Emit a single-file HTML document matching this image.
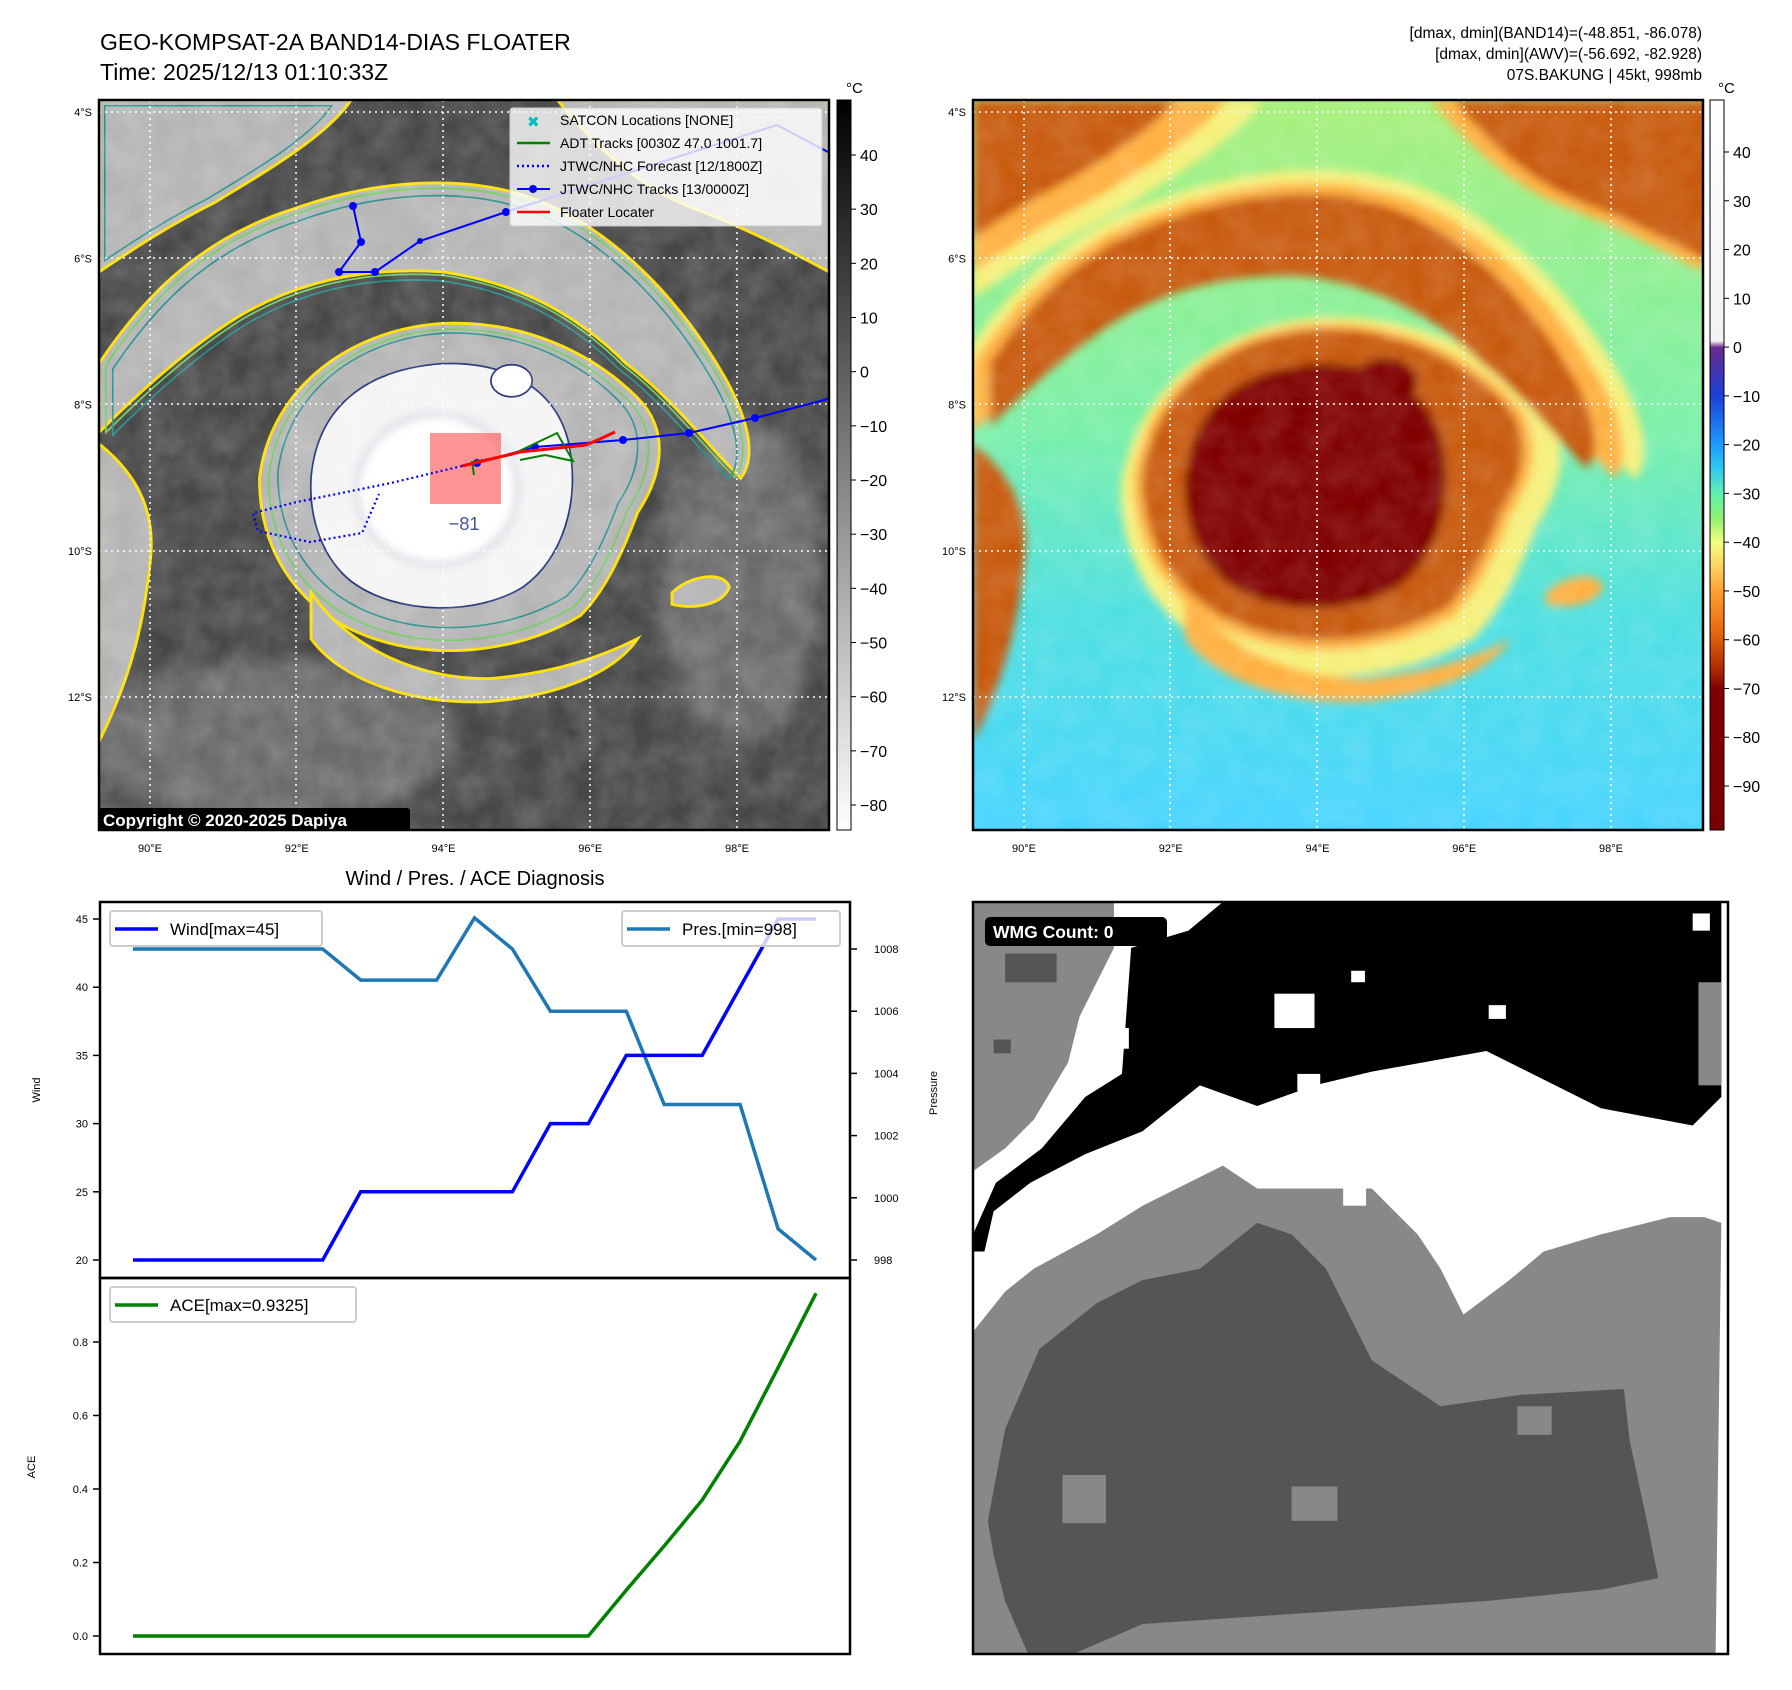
<!DOCTYPE html>
<html><head><meta charset="utf-8"><style>
html,body{margin:0;padding:0;background:#fff;}
svg{display:block;font-family:"Liberation Sans","DejaVu Sans",sans-serif;}
</style></head><body>
<svg id="root" width="1792" height="1690" viewBox="0 0 1792 1690" xmlns="http://www.w3.org/2000/svg">
<defs>
  <clipPath id="clip1"><rect x="99" y="100" width="730" height="730"/></clipPath>
  <clipPath id="clip2"><rect x="973" y="100" width="730" height="730"/></clipPath>
  <clipPath id="clip3"><rect x="973" y="902" width="755" height="752"/></clipPath>
  <filter id="blur4"><feGaussianBlur stdDeviation="4"/></filter>
  <filter id="blur8"><feGaussianBlur stdDeviation="8"/></filter>
  <filter id="noise" x="0" y="0" width="100%" height="100%">
    <feTurbulence type="fractalNoise" baseFrequency="0.035" numOctaves="3" seed="4"/>
    <feColorMatrix type="matrix" values="0 0 0 0 1  0 0 0 0 1  0 0 0 0 1  0 0 0 0.55 -0.12"/>
  </filter>
  <linearGradient id="cb1" x1="0" y1="0" x2="0" y2="1">
    <stop offset="0" stop-color="#000"/><stop offset="1" stop-color="#fff"/>
  </linearGradient>
  <linearGradient id="cb2" x1="0" y1="0" x2="0" y2="1">
    <stop offset="0" stop-color="#ffffff"/><stop offset="0.33" stop-color="#f2f2f2"/>
    <stop offset="0.339" stop-color="#6a2a90"/><stop offset="0.405" stop-color="#1a40d8"/>
    <stop offset="0.472" stop-color="#1e9cff"/><stop offset="0.505" stop-color="#2ec8f0"/>
    <stop offset="0.539" stop-color="#60f0b0"/><stop offset="0.572" stop-color="#90f070"/>
    <stop offset="0.606" stop-color="#f0ff80"/><stop offset="0.64" stop-color="#ffd060"/>
    <stop offset="0.673" stop-color="#ffa030"/><stop offset="0.726" stop-color="#e86a10"/>
    <stop offset="0.773" stop-color="#b83200"/><stop offset="0.807" stop-color="#800000"/>
    <stop offset="1" stop-color="#7a0000"/>
  </linearGradient>
  <linearGradient id="sea2" x1="0" y1="0" x2="0" y2="1">
    <stop offset="0" stop-color="#a8f07a"/><stop offset="0.45" stop-color="#7af0a8"/>
    <stop offset="0.7" stop-color="#4ee0e0"/><stop offset="1" stop-color="#48d4ff"/>
  </linearGradient>
  <path id="band-upper" d="M0,230 C40,170 90,120 170,95 C240,70 330,60 400,95 C460,125 510,180 545,240 C565,275 575,310 560,330 C530,300 500,260 460,230 C420,190 370,160 300,150 C230,145 170,160 120,190 C80,215 40,250 0,290 Z"/>
  <path id="band-top-right" d="M400,0 L637,0 L637,150 C600,130 560,110 520,95 C480,80 440,50 400,0 Z"/>
  <path id="top-left" d="M0,0 L220,0 C200,30 150,60 100,90 C60,110 30,130 0,150 Z"/>
  <path id="ring" d="M140,330 C150,250 220,200 300,195 C370,192 430,220 470,260 C500,290 490,330 470,360 C455,400 440,430 420,450 C370,480 300,490 240,470 C180,450 140,400 140,330 Z"/>
  <path id="band-lower" d="M185,430 C220,480 280,505 340,505 C400,500 440,485 470,470 C450,500 400,520 340,525 C270,528 210,505 185,470 Z"/>
  <path id="core" d="M185,330 C190,270 230,235 300,230 C360,228 400,255 410,300 C420,350 405,400 370,425 C330,450 260,450 220,420 C195,400 183,365 185,330 Z"/>
  <path id="left-strip" d="M0,300 C25,320 50,350 45,400 C40,450 30,500 0,560 Z"/>
  <path id="island" d="M500,430 C515,415 545,410 550,425 C545,440 520,445 500,440 Z"/>
</defs>

<text x="100" y="50" font-size="23">GEO-KOMPSAT-2A BAND14-DIAS FLOATER</text>
<text x="100" y="80" font-size="23">Time: 2025/12/13 01:10:33Z</text>
<g font-size="15.5" text-anchor="end">
  <text x="1702" y="38">[dmax, dmin](BAND14)=(-48.851, -86.078)</text>
  <text x="1702" y="59">[dmax, dmin](AWV)=(-56.692, -82.928)</text>
  <text x="1702" y="80">07S.BAKUNG | 45kt, 998mb</text>
</g>

<!-- MAP 1 -->
<g clip-path="url(#clip1)">
  <rect x="99" y="100" width="730" height="730" fill="#474747"/>
  <g transform="translate(99,100) scale(1.146)">
    <g filter="url(#blur8)" fill="#6a6a6a">
      <ellipse cx="150" cy="560" rx="160" ry="70"/><ellipse cx="560" cy="420" rx="70" ry="140"/>
    </g>
    <g fill="#b4b4b4" stroke="#ffe000" stroke-width="2.5">
      <use href="#top-left"/>
      <use href="#band-upper"/><use href="#band-top-right"/><use href="#ring"/>
      <use href="#band-lower"/><use href="#left-strip"/><use href="#island"/>
    </g>
    <g fill="none" stroke="#6dcf5a" stroke-width="1.5">
      <use href="#band-upper" transform="translate(6,6) scale(0.98)"/>
      <use href="#ring" transform="translate(15,15) scale(0.95)"/>
    </g>
    <g fill="none" stroke="#24908c" stroke-width="1.5">
      <use href="#ring" transform="translate(30,28) scale(0.9)"/>
      <use href="#band-upper" transform="translate(12,14) scale(0.96)"/>
      <use href="#top-left" transform="translate(5,5) scale(0.9)"/>
    </g>
    <use href="#core" fill="#f4f4f4" stroke="#1f2f7a" stroke-width="1.5"/>
    <ellipse cx="295" cy="340" rx="70" ry="65" fill="#ffffff" stroke="#2a3a85" stroke-width="1.3" filter="url(#blur4)"/>
    <ellipse cx="360" cy="245" rx="18" ry="14" fill="#fff" stroke="#1f2f7a" stroke-width="1.5"/>
    <text x="305" y="375" font-size="16" fill="#2a3a85">−81</text>
  </g>
  <rect x="99" y="100" width="730" height="730" filter="url(#noise)" opacity="0.5"/>
  <g stroke="#fff" stroke-width="1.5" stroke-dasharray="2,4">
    <line x1="150" y1="100" x2="150" y2="830"/><line x1="296" y1="100" x2="296" y2="830"/>
    <line x1="443" y1="100" x2="443" y2="830"/><line x1="590" y1="100" x2="590" y2="830"/>
    <line x1="737" y1="100" x2="737" y2="830"/>
    <line x1="99" y1="112" x2="829" y2="112"/><line x1="99" y1="258" x2="829" y2="258"/>
    <line x1="99" y1="404" x2="829" y2="404"/><line x1="99" y1="551" x2="829" y2="551"/>
    <line x1="99" y1="697" x2="829" y2="697"/>
  </g>
  <rect x="430" y="433" width="71" height="71" fill="rgba(255,60,60,0.55)"/>
  <polyline points="462,466 391,483 297,502 253,513 258,531 310,542 362,533 379,494" fill="none" stroke="#0000ff" stroke-width="2.2" stroke-dasharray="2,3"/>
  <polyline points="353,206 361,242 339,272 375,272 420,241 506,212 777,125 828,152" fill="none" stroke="#0000ff" stroke-width="2"/>
  <polyline points="828,399 755,418 689,433 623,440 535,447 477,463" fill="none" stroke="#0000ff" stroke-width="2"/>
  <g fill="#0000ff">
    <circle cx="353" cy="206" r="4"/><circle cx="361" cy="242" r="4"/><circle cx="339" cy="272" r="4"/>
    <circle cx="375" cy="272" r="4"/><circle cx="420" cy="241" r="3"/><circle cx="506" cy="212" r="4"/>
    <circle cx="755" cy="418" r="4"/><circle cx="689" cy="433" r="4"/><circle cx="623" cy="440" r="4"/>
    <circle cx="535" cy="447" r="4"/><circle cx="477" cy="463" r="4"/>
  </g>
  <polyline points="474,475 472,462 511,455 557,433 573,461 545,455 520,460" fill="none" stroke="#008000" stroke-width="2"/>
  <polyline points="462,466 520,452 586,445 600,439 615,432" fill="none" stroke="#ff0000" stroke-width="3"/>
  <g>
    <rect x="510" y="108" width="312" height="118" rx="3" fill="rgba(255,255,255,0.8)" stroke="#ccc"/>
    <g font-size="14">
      <text x="527" y="127" fill="#00bfbf" font-size="15" font-weight="bold">✖</text>
      <text x="560" y="125">SATCON Locations [NONE]</text>
      <line x1="517" y1="143" x2="550" y2="143" stroke="#008000" stroke-width="2.5"/>
      <text x="560" y="148">ADT Tracks [0030Z 47.0 1001.7]</text>
      <line x1="517" y1="166" x2="550" y2="166" stroke="#0000ff" stroke-width="2.5" stroke-dasharray="2,3"/>
      <text x="560" y="171">JTWC/NHC Forecast [12/1800Z]</text>
      <line x1="517" y1="189" x2="550" y2="189" stroke="#0000ff" stroke-width="2"/>
      <circle cx="533" cy="189" r="4" fill="#0000ff"/>
      <text x="560" y="194">JTWC/NHC Tracks [13/0000Z]</text>
      <line x1="517" y1="212" x2="550" y2="212" stroke="#ff0000" stroke-width="2.5"/>
      <text x="560" y="217">Floater Locater</text>
    </g>
  </g>
  <rect x="99" y="808" width="311" height="24" fill="#000" rx="3"/>
  <text x="103" y="826" font-size="17" font-weight="bold" fill="#fff">Copyright © 2020-2025 Dapiya</text>
</g>
<rect x="99" y="100" width="730" height="730" fill="none" stroke="#000" stroke-width="2.5"/>

<!-- MAP 2 -->
<g clip-path="url(#clip2)">
  <rect x="973" y="100" width="730" height="730" fill="url(#sea2)"/>
  <g transform="translate(973,100) scale(1.146)">
    <g filter="url(#blur4)">
      <g fill="#f5f07a"><use href="#band-upper" transform="translate(-10,-15) scale(1.05)"/><use href="#ring" transform="translate(-25,-25) scale(1.1)"/><use href="#top-left" transform="scale(1.15)"/></g>
      <g fill="#ffb040"><use href="#top-left"/><use href="#band-upper"/><use href="#band-top-right"/><use href="#ring"/><use href="#band-lower"/><use href="#island"/></g>
      <g fill="#c85a10"><use href="#top-left" transform="scale(0.8)"/><use href="#band-upper" transform="translate(15,15) scale(0.93)"/><use href="#band-top-right" transform="translate(40,0) scale(0.95)"/><use href="#ring" transform="translate(15,15) scale(0.95)"/><use href="#left-strip"/></g>
      <use href="#core" fill="#800000"/>
      <ellipse cx="360" cy="245" rx="28" ry="20" fill="#800000"/>
    </g>
  </g>
  <rect x="973" y="100" width="730" height="730" filter="url(#noise)" opacity="0.35"/>
  <g stroke="#fff" stroke-width="1.5" stroke-dasharray="2,4">
    <line x1="1024" y1="100" x2="1024" y2="830"/><line x1="1170" y1="100" x2="1170" y2="830"/>
    <line x1="1317" y1="100" x2="1317" y2="830"/><line x1="1464" y1="100" x2="1464" y2="830"/>
    <line x1="1611" y1="100" x2="1611" y2="830"/>
    <line x1="973" y1="112" x2="1703" y2="112"/><line x1="973" y1="258" x2="1703" y2="258"/>
    <line x1="973" y1="404" x2="1703" y2="404"/><line x1="973" y1="551" x2="1703" y2="551"/>
    <line x1="973" y1="697" x2="1703" y2="697"/>
  </g>
</g>
<rect x="973" y="100" width="730" height="730" fill="none" stroke="#000" stroke-width="2.5"/>

<g font-size="11" id="maplabels"></g>

<rect x="837" y="100" width="14" height="730" fill="url(#cb1)" stroke="#000"/>
<text x="846" y="93" font-size="15">°C</text>
<rect x="1710" y="100" width="14" height="730" fill="url(#cb2)" stroke="#000"/>
<text x="1718" y="93" font-size="15">°C</text>
<g id="cbticks" font-size="16"></g>

<text x="475" y="885" font-size="20" text-anchor="middle">Wind / Pres. / ACE Diagnosis</text>
<g id="ts"></g>
<rect x="100" y="902" width="750" height="376" fill="none" stroke="#000" stroke-width="2.5"/>
<rect x="100" y="1278" width="750" height="376" fill="none" stroke="#000" stroke-width="2.5"/>
<text transform="translate(40,1090) rotate(-90)" font-size="11" text-anchor="middle">Wind</text>
<text transform="translate(937,1093) rotate(-90)" font-size="11" text-anchor="middle">Pressure</text>
<text transform="translate(35,1467) rotate(-90)" font-size="11" text-anchor="middle">ACE</text>
<g>
  <rect x="110" y="911" width="212" height="35" rx="3" fill="rgba(255,255,255,0.8)" stroke="#ccc" stroke-width="2"/>
  <line x1="115" y1="929" x2="158" y2="929" stroke="#0000ff" stroke-width="3.5"/>
  <text x="170" y="935" font-size="17">Wind[max=45]</text>
</g>
<g>
  <rect x="622" y="911" width="218" height="35" rx="3" fill="rgba(255,255,255,0.8)" stroke="#ccc" stroke-width="2"/>
  <line x1="627" y1="929" x2="670" y2="929" stroke="#1f77b4" stroke-width="3.5"/>
  <text x="682" y="935" font-size="17">Pres.[min=998]</text>
</g>
<g>
  <rect x="110" y="1287" width="246" height="35" rx="3" fill="rgba(255,255,255,0.8)" stroke="#ccc" stroke-width="2"/>
  <line x1="115" y1="1305" x2="158" y2="1305" stroke="#008000" stroke-width="3.5"/>
  <text x="170" y="1311" font-size="17">ACE[max=0.9325]</text>
</g>

<!-- WMG map -->
<g clip-path="url(#clip3)">
  <rect x="973" y="902" width="755" height="752" fill="#fff"/>
  <g transform="translate(973,902) scale(1.146)">
    <polygon fill="#888" points="0,0 123,0 123,40 93,100 83,140 53,190 28,215 0,235"/>
    <rect x="28" y="45" width="45" height="25" fill="#555"/>
    <rect x="18" y="120" width="15" height="12" fill="#555"/>
    <polygon fill="#000" points="138,40 188,25 218,0 653,0 653,170 628,195 548,180 448,130 348,148 298,160 248,178 198,160 148,200 98,220 50,245 18,270 10,305 0,305 0,290 20,245 60,215 98,170 130,150"/>
    <polygon fill="#888" points="633,70 653,70 653,160 633,160"/>
    <rect x="263" y="80" width="35" height="30" fill="#fff"/>
    <rect x="628" y="10" width="15" height="15" fill="#fff"/>
    <rect x="283" y="150" width="20" height="15" fill="#fff"/>
    <rect x="118" y="110" width="18" height="18" fill="#fff"/>
    <rect x="330" y="60" width="12" height="10" fill="#fff"/>
    <rect x="450" y="90" width="15" height="12" fill="#fff"/>
    <polygon fill="#888" points="0,375 28,340 53,320 108,290 148,265 218,230 248,250 348,250 388,290 408,320 428,360 468,330 498,305 548,290 608,275 638,275 653,280 648,656 0,656"/>
    <polygon fill="#555" points="13,540 28,460 58,390 108,350 148,330 198,320 248,280 278,290 308,320 328,360 348,400 408,440 478,430 568,425 573,470 588,540 598,590 548,600 448,610 298,620 148,630 88,656 48,656 28,610 18,570"/>
    <rect x="78" y="500" width="38" height="42" fill="#888"/>
    <rect x="278" y="510" width="40" height="30" fill="#888"/>
    <rect x="475" y="440" width="30" height="25" fill="#888"/>
    <rect x="323" y="250" width="20" height="15" fill="#fff"/>
  </g>
  <rect x="985" y="917" width="182" height="29" rx="5" fill="#000"/>
  <text x="993" y="938" font-size="17.5" font-weight="bold" fill="#fff">WMG Count: 0</text>
</g>
<rect x="973" y="902" width="755" height="752" fill="none" stroke="#000" stroke-width="2.5"/>
</svg>
<script>
var timeIndex = [0,1,2,3,4,5,6,7,8,9,10,11,12,13,14,15,16,17,18];
var windValues = [20,20,20,20,20,20,25,25,25,25,25,30,30,35,35,35,40,45,45];
var presValues = [1008,1008,1008,1008,1008,1008,1007,1007,1007,1009,1008,1006,1006,1006,1003,1003,1003,999,998];
var aceValues = [0,0,0,0,0,0,0,0,0,0,0,0,0,0.125,0.245,0.37,0.53,0.73,0.9325];
var windTicks = [20,25,30,35,40,45];
var presTicks = [998,1000,1002,1004,1006,1008];
var aceTicks = ["0.0","0.2","0.4","0.6","0.8"];
var irTicks = [40,30,20,10,0,-10,-20,-30,-40,-50,-60,-70,-80];
var awvTicks = [40,30,20,10,0,-10,-20,-30,-40,-50,-60,-70,-80,-90];
var latLabels = ["4°S","6°S","8°S","10°S","12°S"];
var lonLabels = ["90°E","92°E","94°E","96°E","98°E"];

var NS = "http://www.w3.org/2000/svg";
function mk(tag, attrs, parent){ var e=document.createElementNS(NS,tag); for(var k in attrs) e.setAttribute(k,attrs[k]); parent.appendChild(e); return e; }
function xAt(i){ return 133 + i*(816-133)/18; }
function yWind(v){ return 1260 - (v-20)*(1260-919)/25; }
function yPres(v){ return 1260 - (v-998)*(1260-949)/10; }
function yAce(v){ return 1636 - v*(1636-1342)/0.8; }
function yIr(v){ return 155 + (40-v)*(805-155)/120; }
function yAwv(v){ return 152 + (40-v)*(786-152)/130; }
function latY(i){ return 112 + i*146.25; }
function lonX(i){ return 150 + i*146.75; }

var ts = document.getElementById('ts');
function line(vals, yf, color, name){
  var pts = vals.map(function(v,i){ return xAt(timeIndex[i]).toFixed(1)+","+yf(v).toFixed(1); }).join(" ");
  var p = mk('polyline',{points:pts, fill:'none', stroke:color, 'stroke-width':3.5}, ts);
  
  
}
line(presValues, yPres, '#1f77b4', 'pressure-line');
line(windValues, yWind, '#0000ff', 'wind-line');
line(aceValues, yAce, '#008000', 'ace-line');

windTicks.forEach(function(v){
  var y=yWind(v);
  mk('line',{x1:93,x2:100,y1:y,y2:y,stroke:'#000','stroke-width':1.5},ts);
  var t=mk('text',{x:88,y:y+4,'font-size':11,'text-anchor':'end'},ts); t.textContent=v;
  
  
});
presTicks.forEach(function(v){
  var y=yPres(v);
  mk('line',{x1:850,x2:857,y1:y,y2:y,stroke:'#000','stroke-width':1.5},ts);
  var t=mk('text',{x:874,y:y+4,'font-size':11},ts); t.textContent=v;
  
  
});
aceTicks.forEach(function(s){
  var y=yAce(parseFloat(s));
  mk('line',{x1:93,x2:100,y1:y,y2:y,stroke:'#000','stroke-width':1.5},ts);
  var t=mk('text',{x:88,y:y+4,'font-size':11,'text-anchor':'end'},ts); t.textContent=s;
  
  
});

var cb = document.getElementById('cbticks');
irTicks.forEach(function(v){
  var y=yIr(v);
  mk('line',{x1:851,x2:856,y1:y,y2:y,stroke:'#000'},cb);
  var t=mk('text',{x:860,y:y+6},cb); t.textContent=(v<0?'−'+(-v):v);
  
  
});
awvTicks.forEach(function(v){
  var y=yAwv(v);
  mk('line',{x1:1724,x2:1729,y1:y,y2:y,stroke:'#000'},cb);
  var t=mk('text',{x:1733,y:y+6},cb); t.textContent=(v<0?'−'+(-v):v);
  
  
});

var ml = document.getElementById('maplabels');
[0,874].forEach(function(off){
  latLabels.forEach(function(s,i){
    var t=mk('text',{x:92+off,y:latY(i)+4,'text-anchor':'end'},ml); t.textContent=s;
    
    
  });
  lonLabels.forEach(function(s,i){
    var t=mk('text',{x:lonX(i)+off,y:852,'text-anchor':'middle'},ml); t.textContent=s;
    
    
  });
});
</script>
</body></html>
